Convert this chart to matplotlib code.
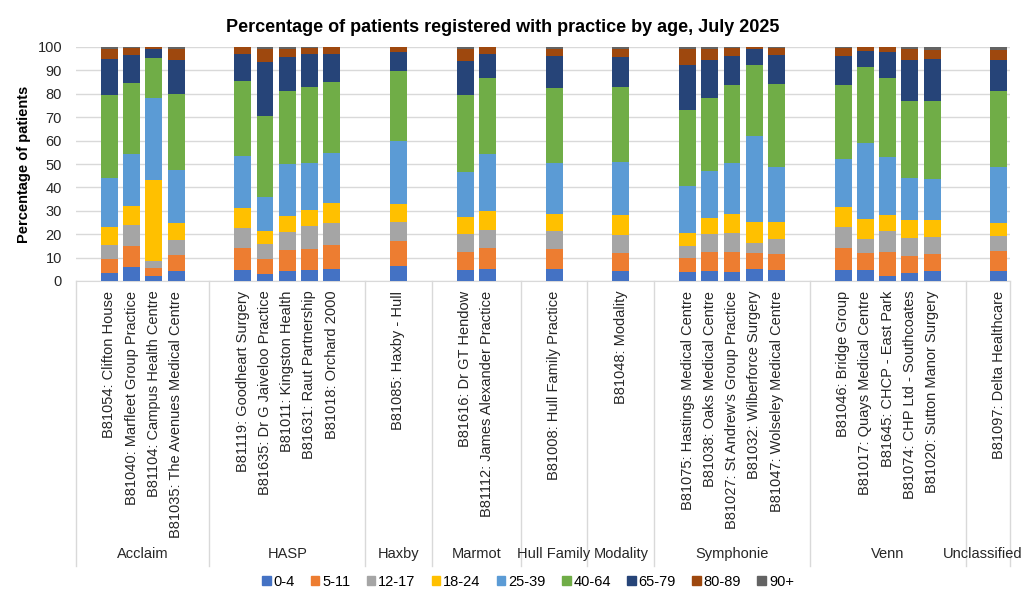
import numpy as np
import matplotlib.pyplot as plt
from matplotlib.patches import Patch
import matplotlib.transforms as mtransforms

plt.rcParams['font.family'] = ['Liberation Sans', 'DejaVu Sans']

# practice groups (PCN) and practices, in display order
groups = ["Acclaim", "HASP", "Haxby", "Marmot", "Hull Family", "Modality",
          "Symphonie", "Venn", "Unclassified"]
group_practices = [
    ["B81054: Clifton House", "B81040: Marfleet Group Practice",
     "B81104: Campus Health Centre", "B81035: The Avenues Medical Centre"],
    ["B81119: Goodheart Surgery", "B81635: Dr G Jaiveloo Practice",
     "B81011: Kingston Health", "B81631: Raut Partnership", "B81018: Orchard 2000"],
    ["B81085: Haxby - Hull"],
    ["B81616: Dr GT Hendow", "B81112: James Alexander Practice"],
    ["B81008: Hull Family Practice"],
    ["B81048: Modality"],
    ["B81075: Hastings Medical Centre", "B81038: Oaks Medical Centre",
     "B81027: St Andrew's Group Practice", "B81032: Wilberforce Surgery",
     "B81047: Wolseley Medical Centre"],
    ["B81046: Bridge Group", "B81017: Quays Medical Centre", "B81645: CHCP - East Park",
     "B81074: CHP Ltd - Southcoates", "B81020: Sutton Manor Surgery"],
    ["B81097: Delta Healthcare"],
]

age_bands = ["0-4", "5-11", "12-17", "18-24", "25-39", "40-64", "65-79", "80-89", "90+"]
colors = ["#4472C4", "#ED7D31", "#A5A5A5", "#FFC000", "#5B9BD5",
          "#70AD47", "#264478", "#9E480E", "#636363"]

# % of patients per age band, one row per practice (same order as above)
pct = np.array([
    [3.4, 6.0, 6.0, 7.7, 21.0, 35.2, 15.4, 4.3, 1.0],
    [6.0, 9.0, 9.1, 7.8, 22.2, 30.5, 11.8, 3.2, 0.4],
    [2.1, 3.5, 3.1, 34.6, 35.1, 16.7, 3.9, 0.9, 0.1],
    [4.4, 6.9, 6.3, 7.0, 22.7, 32.6, 14.5, 4.6, 1.0],
    [4.9, 9.2, 8.6, 8.6, 22.3, 31.7, 11.6, 2.9, 0.2],
    [3.1, 6.3, 6.5, 5.5, 14.7, 34.6, 22.9, 5.4, 1.0],
    [4.4, 8.9, 7.7, 6.9, 22.0, 31.5, 14.2, 3.5, 0.9],
    [4.7, 9.0, 9.6, 7.1, 20.2, 32.1, 14.2, 2.8, 0.3],
    [5.1, 10.3, 9.5, 8.5, 21.5, 30.0, 12.0, 3.0, 0.1],
    [6.4, 10.7, 8.2, 7.7, 27.0, 29.6, 8.1, 2.2, 0.1],
    [4.7, 7.7, 7.7, 7.3, 19.3, 33.0, 14.2, 5.1, 1.0],
    [5.1, 9.0, 7.8, 8.1, 24.4, 32.2, 10.3, 3.0, 0.1],
    [5.1, 8.6, 7.7, 7.3, 21.9, 31.7, 13.7, 3.0, 1.0],
    [4.3, 7.7, 7.7, 8.6, 22.7, 32.1, 12.5, 3.4, 1.0],
    [3.9, 6.0, 5.1, 5.6, 20.1, 32.2, 19.2, 6.9, 1.0],
    [4.3, 8.1, 7.7, 6.9, 20.1, 30.9, 16.3, 4.7, 1.0],
    [3.9, 8.5, 8.2, 8.1, 21.9, 33.0, 12.4, 3.7, 0.3],
    [5.1, 6.9, 4.3, 9.0, 36.8, 30.0, 6.9, 0.9, 0.1],
    [4.7, 6.9, 6.4, 7.3, 23.6, 35.5, 12.0, 3.3, 0.3],
    [4.7, 9.4, 9.0, 8.6, 20.6, 31.3, 12.4, 3.7, 0.3],
    [4.7, 7.3, 6.0, 8.6, 32.5, 32.2, 6.8, 1.8, 0.1],
    [2.1, 10.3, 9.0, 6.9, 24.8, 33.5, 11.1, 2.2, 0.1],
    [3.4, 7.3, 7.7, 7.7, 18.0, 33.0, 17.2, 4.7, 1.0],
    [4.3, 7.3, 7.3, 7.2, 17.6, 33.4, 17.6, 3.9, 1.4],
    [4.3, 8.6, 6.4, 5.6, 24.0, 32.1, 13.3, 4.3, 1.4],
])

# the source sheet has a blank row before and after each group (none after the last)
xpos = []
labels = []
bounds = [-0.5]
slot = 0
for gi, plist in enumerate(group_practices):
    slot += 1
    for p in plist:
        xpos.append(slot)
        labels.append(p)
        slot += 1
    if gi < len(group_practices) - 1:
        slot += 1
    bounds.append(slot - 0.5)
xpos = np.array(xpos)
nslots = slot

fs = 10.5
fig = plt.figure(figsize=(10.25, 6.04), dpi=100)
ax = fig.add_axes([76 / 1025, 1 - 281 / 604, (1010 - 76) / 1025, (281 - 47) / 604])

bottom = np.zeros(len(xpos))
for i, band in enumerate(age_bands):
    ax.bar(xpos, pct[:, i], 0.76, bottom=bottom, color=colors[i], label=band, zorder=3)
    bottom += pct[:, i]

ax.set_xlim(-0.5, nslots - 0.5)
ax.set_ylim(0, 100)
ax.set_yticks(range(0, 101, 10))
ax.yaxis.grid(True, color="#D9D9D9", lw=1, zorder=0)
for s in ["top", "right", "left"]:
    ax.spines[s].set_visible(False)
ax.spines["bottom"].set_color("#D9D9D9")
ax.tick_params(axis="y", length=0, labelsize=fs, pad=10, labelcolor="#262626")
ax.tick_params(axis="x", length=0, labelsize=fs, pad=7, labelcolor="#262626")
ax.set_xticks(xpos)
ax.set_xticklabels(labels, rotation=90)

ax.set_ylabel("Percentage of patients", fontsize=fs, fontweight="bold", labelpad=5)
fig.suptitle("Percentage of patients registered with practice by age, July 2025",
             x=0.49, y=0.968, fontsize=13, fontweight="bold")

# second level of the category axis
trans = mtransforms.blended_transform_factory(ax.transData, ax.transAxes)
line_bot = (281 - 566) / 234
for b in bounds:
    ax.plot([b, b], [0, line_bot], color="#D9D9D9", lw=1, transform=trans, clip_on=False)
for gi, g in enumerate(groups):
    mid = (bounds[gi] + bounds[gi + 1]) / 2
    if gi == len(groups) - 1:
        # last label runs past the figure edge in the original; keep it inside
        fig.text(1023 / 1025, 1 - 554 / 604, g, ha="right", va="center",
                 fontsize=fs, color="#262626")
        continue
    ax.text(mid, (281 - 554) / 234, g, transform=trans, ha="center", va="center",
            fontsize=fs, color="#262626", clip_on=False)

handles = [Patch(color=c, label=b) for c, b in zip(colors, age_bands)]
fig.legend(handles=handles, loc="center", ncol=9, bbox_to_anchor=(0.515, 1 - 582 / 604),
           frameon=False, fontsize=fs, handlelength=0.6, handleheight=0.6,
           handletextpad=0.2, columnspacing=1.1)

fig.savefig("out.png", dpi=100)
